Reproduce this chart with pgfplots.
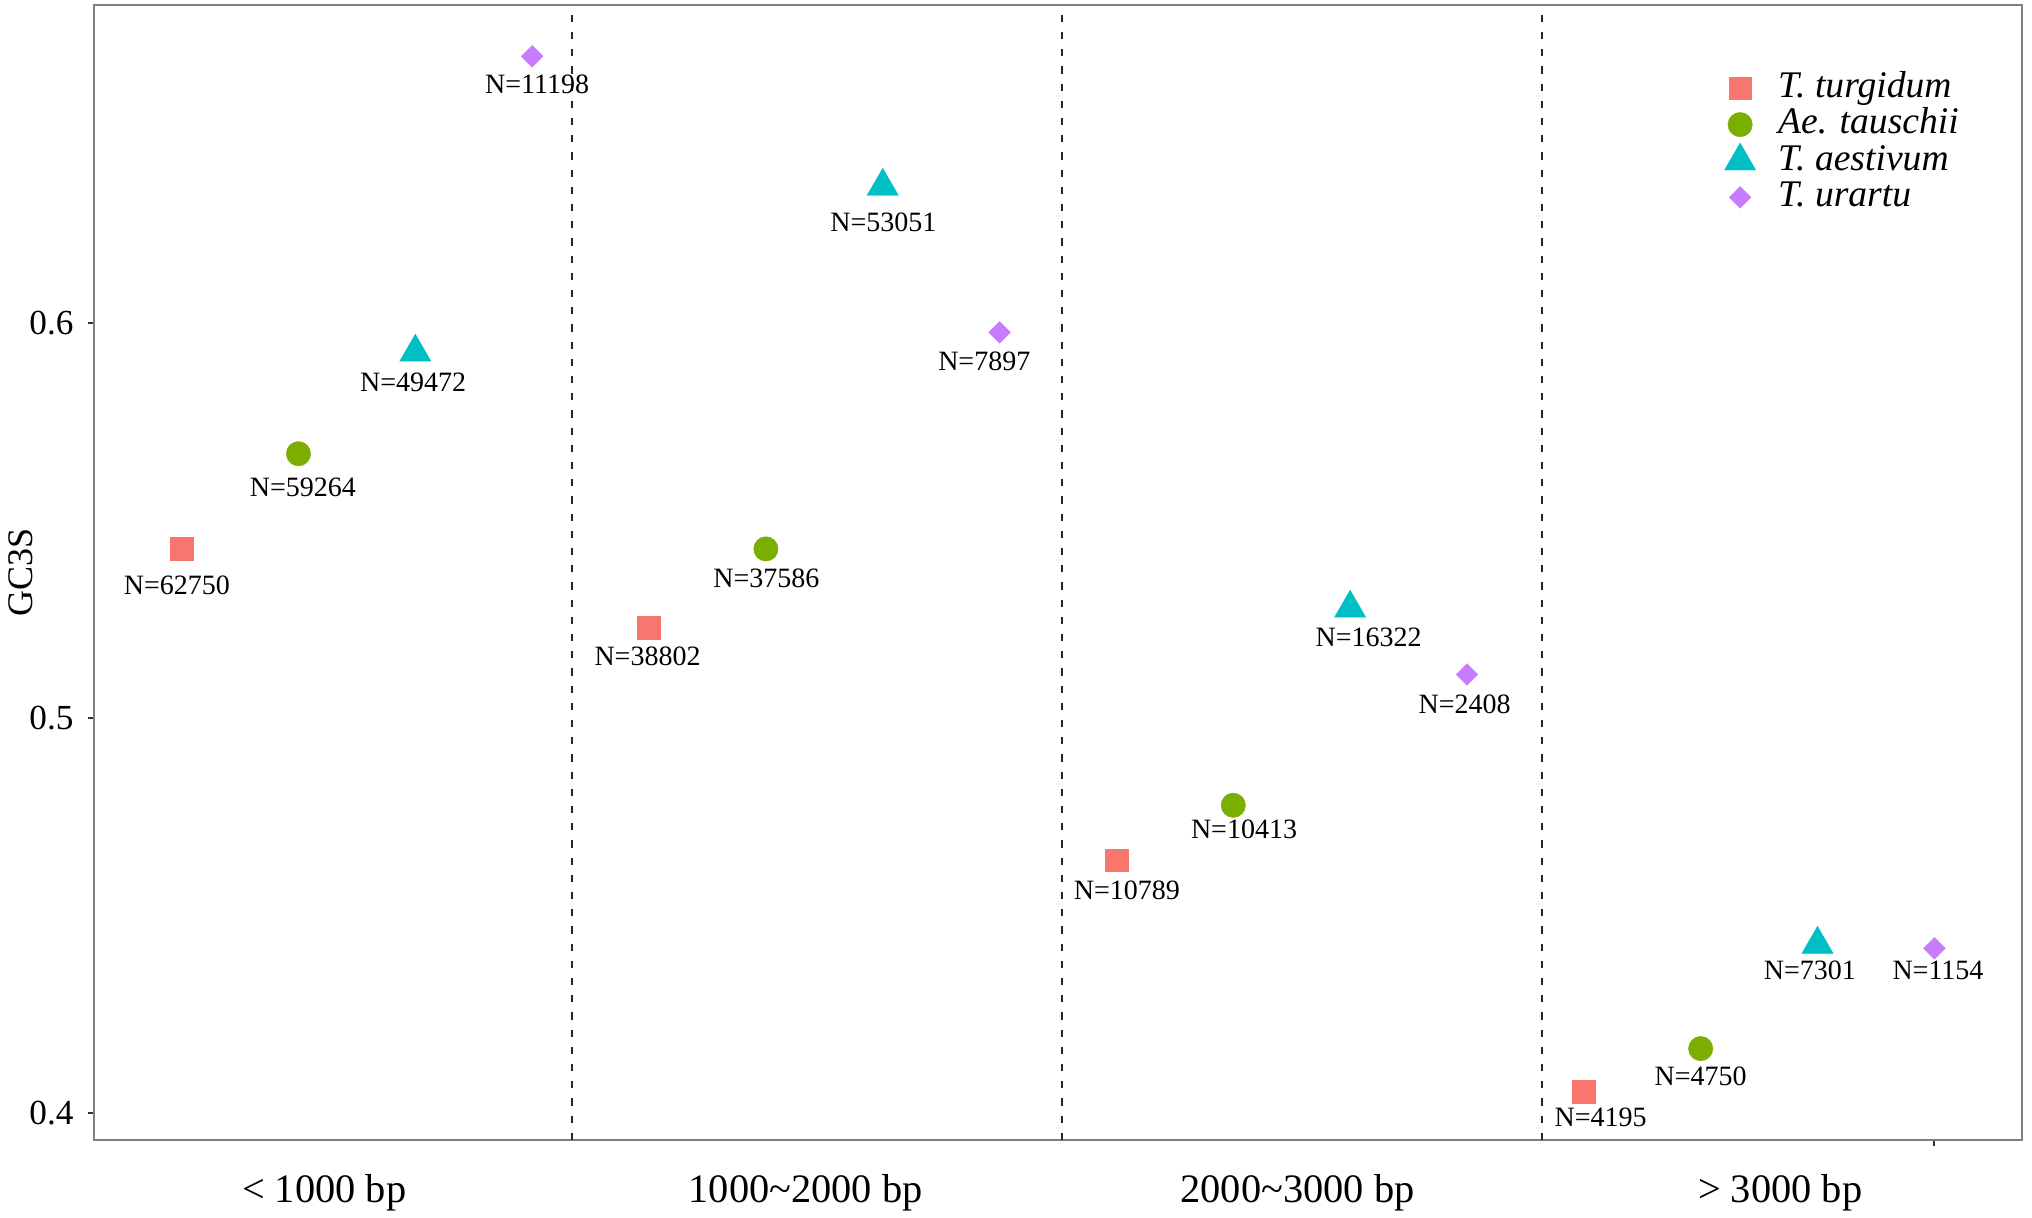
\documentclass[border=0pt]{standalone}
\usepackage{fontspec}
\setmainfont{Liberation Serif}
\usepackage{pgfplots}
\pgfplotsset{compat=1.18}
\usepackage{pgfplotstable}

\definecolor{cred}{HTML}{F8766D}
\definecolor{cgreen}{HTML}{7CAE00}
\definecolor{ccyan}{HTML}{00BFC4}
\definecolor{cpurple}{HTML}{C77CFF}
\definecolor{axgray}{HTML}{808080}

\pgfplotstableread{
x y
1 0.5428
5 0.5228
9 0.4640
13 0.4053
}\turgidum
\pgfplotstableread{
x y
2 0.5669
6 0.5428
10 0.4779
14 0.4163
}\tauschii
\pgfplotstableread{
x y
3 0.5926
7 0.6346
11 0.5278
15 0.4427
}\aestivum
\pgfplotstableread{
x y
4 0.6675
8 0.5976
12 0.5110
16 0.4417
}\urartu
\pgfplotstableread{
x y label
0.960 0.5335 N=62750
2.037 0.5585 N=59264
2.982 0.5849 N=49472
4.042 0.6604 N=11198
4.987 0.5156 N=38802
6.005 0.5353 N=37586
7.005 0.6254 N=53051
7.869 0.5904 N=7897
9.090 0.4564 N=10789
10.092 0.4718 N=10413
11.158 0.5203 N=16322
11.980 0.5034 N=2408
13.143 0.3990 N=4195
14.000 0.4093 N=4750
14.935 0.4361 N=7301
16.031 0.4361 N=1154
}\labels

\begin{document}
\begin{tikzpicture}
\useasboundingbox (-23.5pt,-19.5pt) rectangle (484.5pt,285pt);
\begin{axis}[
  at={(0,0)}, anchor=south west,
  scale only axis, width=482pt, height=283.75pt,
  xmin=0.25, xmax=16.75, ymin=0.39316, ymax=0.6805,
  clip=false,
  axis line style={axgray, line width=0.6pt},
  tick align=outside, tick pos=left,
  major tick length=1.6pt,
  tick style={black!80, line width=0.5pt},
  /pgf/number format/assume math mode=true,
  ytick={0.4,0.5,0.6},
  yticklabels={0.4,0.5,0.6},
  yticklabel style={font=\fontsize{8.8}{10}\selectfont},
  ylabel={GC3S},
  ylabel style={at={(axis description cs:-0.038,0.5)}, anchor=center, font=\fontsize{9}{11}\selectfont},
  xtick={16},
  xticklabels={},
  extra x ticks={2.22,6.34,10.55,14.68},
  extra x tick labels={{< 1000 bp},{1000\textasciitilde2000 bp},{2000\textasciitilde3000 bp},{> 3000 bp}},
  extra x tick style={tick style={draw=none}, tick label style={font=\fontsize{10.1}{12}\selectfont, yshift=-3.5pt}},
  legend cell align=left,
  legend style={at={(axis description cs:0.8457,0.9427)}, anchor=north west, draw=none, fill=none,
    inner sep=0pt, outer sep=0pt, row sep=0pt, column sep=5.6pt,
    font=\fontsize{9.4}{11}\selectfont,
    nodes={inner sep=0pt, text height=6.8pt, text depth=2.3pt}},
]
\addplot[forget plot, black!85, dash pattern=on 1.8pt off 2.5pt, line width=0.5pt] coordinates {(4.343,0.39316) (4.343,0.6805)};
\addplot[forget plot, black!85, dash pattern=on 1.8pt off 2.5pt, line width=0.5pt] coordinates {(8.538,0.39316) (8.538,0.6805)};
\addplot[forget plot, black!85, dash pattern=on 1.8pt off 2.5pt, line width=0.5pt] coordinates {(12.64,0.39316) (12.64,0.6805)};

\addplot[color=cred, only marks, mark=square*, mark size=2.85pt, mark options={draw=cred, fill=cred, line width=0.1pt}] table[x=x,y=y]{\turgidum};
\addlegendentry{\textit{T. turgidum}}
\addplot[color=cgreen, only marks, mark=*, mark size=3.05pt, mark options={draw=cgreen, fill=cgreen, line width=0.1pt}] table[x=x,y=y]{\tauschii};
\addlegendentry{\textit{Ae. tauschii}}
\addplot[color=ccyan, only marks, mark=triangle*, mark size=4.5pt, mark options={draw=ccyan, fill=ccyan, line width=0.1pt}] table[x=x,y=y]{\aestivum};
\addlegendentry{\textit{T. aestivum}}
\addplot[color=cpurple, only marks, mark=square*, mark size=1.92pt, mark options={draw=cpurple, fill=cpurple, line width=0.1pt, rotate=45}] table[x=x,y=y]{\urartu};
\addlegendentry{\textit{T. urartu}}

\addplot[forget plot, only marks, mark=none, nodes near coords, point meta=explicit symbolic,
  nodes near coords style={anchor=center, inner sep=0pt, font=\fontsize{7}{8}\selectfont, text=black}]
  table[x=x,y=y,meta=label]{\labels};
\end{axis}
\end{tikzpicture}
\end{document}
